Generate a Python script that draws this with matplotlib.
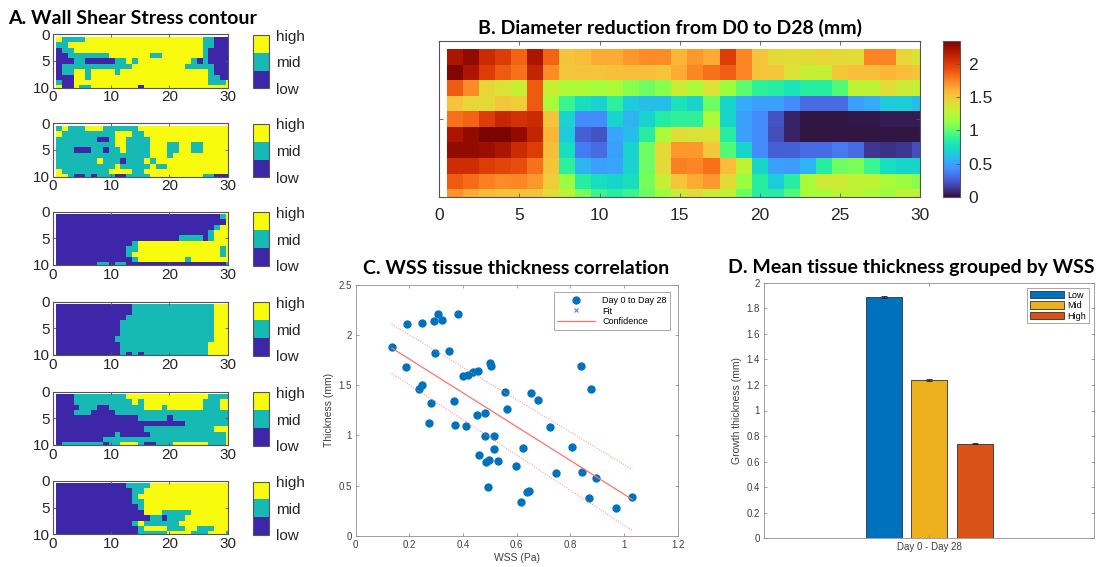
import numpy as np
import matplotlib
matplotlib.use('Agg')
import matplotlib.pyplot as plt
from matplotlib.colors import ListedColormap

# A. wall shear stress class per cell: 0 = low, 1 = mid, 2 = high (10 x 30, groups of 5 columns)
wss_map1 = ["21111 22222 22222 22222 22222 11000",
            "11222 22222 22222 22222 22222 11000",
            "01122 22222 22222 22222 22222 10000",
            "00111 11112 22222 21122 22222 10000",
            "00011 00000 11212 22222 22210 10000",
            "01111 11111 11122 22222 22111 11000",
            "01122 12222 12222 22222 22222 21000",
            "00022 12222 22222 22222 22222 21100",
            "10022 22222 22222 22222 22222 21112",
            "20021 12222 22220 22222 22222 22222"]
wss_map2 = ["12111 22211 11112 22222 22222 22222",
            "21111 11111 22211 22222 22222 22222",
            "11111 11001 22111 12222 22222 22222",
            "11111 11111 22111 12221 12211 22222",
            "11100 01101 12111 12221 12211 22222",
            "11111 11111 11111 12221 22222 22222",
            "11111 11211 10111 21222 22222 22222",
            "11111 11111 21111 12112 22222 22222",
            "21111 11112 22211 22222 22222 22222",
            "22100 10111 00111 12222 22222 11000"]
wss_map3 = ["00000 00000 00000 00000 00000 00012",
            "00000 00000 00000 00000 00000 00002",
            "00000 00000 00000 00000 00000 00122",
            "00000 00000 00000 00000 00000 01222",
            "00000 00000 00000 00000 01111 01222",
            "00000 00000 00012 22222 22222 22222",
            "00000 00000 00112 22222 22222 22212",
            "00000 00000 00122 22222 22222 22212",
            "00000 00000 00012 22222 22122 22222",
            "00000 00110 11000 00000 00000 00001"]
wss_map4 = ["00000 00000 00011 11111 11111 11222",
            "00000 00000 00011 11111 11111 11222",
            "00000 00000 00111 11111 11111 11222",
            "00000 00000 01111 11111 11111 11222",
            "00000 00000 01111 11111 11111 11222",
            "00000 00000 01111 11111 11111 11222",
            "00000 00000 11111 11111 11111 11222",
            "00000 00000 01111 11111 11111 12222",
            "00000 00000 01111 11111 11111 12222",
            "00000 00000 01010 11111 11111 12222"]
wss_map5 = ["00011 11111 11222 22222 22222 21111",
            "00011 11111 11121 22222 22222 11122",
            "00001 11001 11111 22212 22222 11122",
            "00011 10000 11111 11111 11111 11111",
            "00000 00000 00001 11110 11111 11111",
            "00000 00000 00000 00000 00111 11111",
            "00000 00000 00000 11111 11111 11222",
            "00000 00000 10000 01111 11111 11112",
            "00000 00011 11111 11111 11111 11112",
            "01111 11101 12221 00111 22222 21112"]
wss_map6 = ["00000 00000 00111 12222 22222 22222",
            "00000 00000 00011 22222 22222 22222",
            "00000 00000 00012 22222 22222 22222",
            "00000 00000 00011 22222 22222 22222",
            "00000 00000 00001 22222 22222 22222",
            "00000 00000 00000 22211 11122 22222",
            "00000 00000 00000 01101 11222 22222",
            "00000 00000 00012 11111 12222 22222",
            "00000 00000 00001 22221 11221 11222",
            "00000 00000 00001 11112 22211 12221"]
wss_classes = ['low', 'mid', 'high']

# B. diameter reduction D0 -> D28 (mm), 10 rows x 30 columns
diam = [
    [2.20, 2.28, 2.08, 2.00, 1.85, 2.20, 1.85, 1.52, 1.55, 1.62, 1.62, 1.68, 1.72, 1.72, 1.58,
     1.68, 1.62, 2.00, 1.74, 1.52, 1.42, 1.41, 1.42, 1.45, 1.42, 1.41, 1.75, 1.75, 1.45, 1.38],
    [2.33, 2.20, 2.00, 1.88, 1.80, 2.12, 1.72, 1.52, 1.52, 1.52, 1.54, 1.55, 1.55, 1.52, 1.62,
     1.74, 1.80, 1.87, 1.74, 1.52, 1.50, 1.38, 1.30, 1.30, 1.50, 1.55, 1.55, 1.58, 1.55, 1.52],
    [1.88, 1.72, 1.45, 1.38, 1.30, 1.88, 1.30, 1.22, 1.22, 1.18, 1.22, 1.10, 1.03, 1.10, 1.33,
     1.20, 1.38, 1.15, 1.00, 0.88, 0.85, 0.78, 0.85, 0.85, 0.97, 1.27, 1.27, 1.41, 1.33, 1.30],
    [1.52, 1.45, 1.42, 1.50, 1.48, 1.88, 1.20, 0.90, 0.75, 0.69, 0.88, 0.66, 0.60, 0.60, 0.78,
     0.70, 1.03, 0.70, 0.53, 0.49, 0.49, 0.42, 0.30, 0.30, 0.30, 0.49, 0.53, 0.66, 0.66, 0.60],
    [1.80, 1.85, 2.00, 2.10, 2.05, 2.08, 1.52, 0.69, 0.42, 0.42, 0.69, 0.56, 0.69, 0.84, 0.88,
     0.88, 1.20, 0.70, 0.49, 0.42, 0.22, 0.06, 0.01, 0.01, 0.01, 0.02, 0.02, 0.03, 0.03, 0.03],
    [2.20, 2.28, 2.35, 2.35, 2.28, 2.12, 1.58, 0.66, 0.26, 0.22, 0.51, 0.60, 0.85, 1.20, 1.40,
     1.38, 1.38, 0.85, 0.49, 0.42, 0.20, 0.06, 0.01, 0.01, 0.01, 0.01, 0.01, 0.01, 0.01, 0.01],
    [2.28, 2.28, 2.25, 2.20, 2.08, 2.00, 1.55, 0.75, 0.35, 0.30, 0.49, 0.69, 1.03, 1.42, 1.68,
     1.68, 1.50, 0.97, 0.70, 0.42, 0.26, 0.26, 0.30, 0.30, 0.35, 0.30, 0.12, 0.11, 0.12, 0.20],
    [2.07, 2.07, 2.00, 1.96, 1.92, 1.80, 1.52, 0.88, 0.56, 0.49, 0.51, 0.69, 1.03, 1.42, 1.76,
     1.74, 1.80, 1.55, 1.27, 0.70, 0.49, 0.47, 0.56, 0.85, 1.03, 1.07, 0.90, 0.75, 0.70, 0.70],
    [1.88, 1.82, 1.76, 1.72, 1.74, 1.68, 1.48, 1.15, 0.85, 0.75, 0.70, 0.75, 1.05, 1.30, 1.52,
     1.62, 1.68, 1.42, 1.15, 0.85, 0.66, 0.85, 1.20, 1.33, 1.33, 1.27, 1.27, 1.20, 1.15, 1.10],
    [1.70, 1.62, 1.56, 1.53, 1.53, 1.53, 1.42, 1.27, 1.05, 0.90, 0.85, 0.90, 1.03, 1.15, 1.33,
     1.42, 1.33, 1.27, 1.03, 0.85, 0.85, 0.97, 1.18, 1.20, 1.27, 1.27, 1.20, 1.15, 1.27, 1.27]]

# C. WSS vs tissue thickness
wss = [0.134, 0.188, 0.193, 0.236, 0.247, 0.248, 0.275, 0.281, 0.293, 0.296, 0.306, 0.323,
       0.347, 0.365, 0.370, 0.383, 0.401, 0.412, 0.419, 0.438, 0.452, 0.457, 0.460, 0.480,
       0.481, 0.484, 0.493, 0.498, 0.502, 0.503, 0.517, 0.517, 0.530, 0.557, 0.565, 0.599,
       0.616, 0.624, 0.637, 0.647, 0.653, 0.681, 0.725, 0.745, 0.807, 0.840, 0.843, 0.870,
       0.876, 0.897, 0.969, 1.031]
thick = [1.885, 1.686, 2.108, 1.459, 1.503, 2.124, 1.124, 1.327, 2.138, 1.822, 2.214, 2.151,
         1.842, 1.340, 1.107, 2.214, 1.589, 1.090, 1.606, 1.632, 1.200, 1.646, 0.801, 1.227,
         0.991, 0.731, 0.489, 0.755, 1.719, 1.692, 0.991, 0.861, 0.748, 1.430, 1.260, 0.698,
         0.339, 0.874, 0.439, 0.449, 1.420, 1.353, 1.087, 0.628, 0.884, 1.692, 0.638, 0.372,
         1.459, 0.578, 0.279, 0.389]
conf_x = [0.134, 1.031]
conf_upper = [2.11, 0.66]
conf_lower = [1.62, 0.05]

# D. mean thickness per WSS group
groups = ['Low', 'Mid', 'High']
means = [1.89, 1.24, 0.74]
errs = [0.008, 0.008, 0.006]
group_colors = ['#0072bd', '#edb120', '#d95319']

W, H = 1098, 567
def box(x0, y0, x1, y1):
    # pixel box -> figure fraction
    return [x0 / W, 1 - y1 / H, (x1 - x0) / W, (y1 - y0) / H]

plt.rcParams['font.family'] = ['Liberation Sans', 'DejaVu Sans']
title_font = dict(family='Lato', weight='bold', size=14, color='black')
txt = '#262626'

fig = plt.figure(figsize=(10.98, 5.67), dpi=100)

# ---- A
wss_cmap = ListedColormap(['#3e26a8', '#16b9b3', '#f9fb0e'])
tops = [34.3, 123.3, 211.7, 301.7, 391.7, 481.0]
for grid, top in zip([wss_map1, wss_map2, wss_map3, wss_map4, wss_map5, wss_map6], tops):
    z = np.array([[int(c) for c in row.replace(' ', '')] for row in grid]) + 1
    ax = fig.add_axes(box(52.7, top, 227.7, top + 53.3))
    im = ax.imshow(z, cmap=wss_cmap, vmin=1, vmax=3, extent=(0.5, 30.5, 10.5, 0.5),
                   aspect='auto', interpolation='nearest')
    ax.set_xlim(0, 30)
    ax.set_ylim(10, 0)
    ax.set_xticks([0, 10, 20, 30])
    ax.set_yticks([0, 5, 10])
    ax.tick_params(direction='in', top=True, right=True, length=2.5, width=0.6,
                   labelsize=11, labelcolor=txt, color='#555555', pad=2)
    for s in ax.spines.values():
        s.set_color('#555555')
        s.set_linewidth(0.8)
    cax = fig.add_axes(box(253.3, top + 0.7, 269.3, top + 54))
    cb = fig.colorbar(im, cax=cax, ticks=[1, 2, 3])
    cb.ax.set_yticklabels(wss_classes)
    cb.ax.tick_params(length=0, labelsize=11, labelcolor=txt, pad=5)
    cb.outline.set_edgecolor('#555555')
fig.text(8 / W, 1 - 18 / H, 'A. Wall Shear Stress contour', ha='left', va='center', **title_font)

# ---- B
axb = fig.add_axes(box(439.3, 41, 920, 196.7))
imb = axb.imshow(np.array(diam), cmap='turbo', vmin=0, vmax=2.35,
                 extent=(0.5, 30.5, 10.5, 0.5), aspect='auto', interpolation='nearest')
axb.set_xlim(0, 30)
axb.set_ylim(10, 0)
axb.set_xticks(range(0, 31, 5))
axb.set_yticks([5])
axb.set_yticklabels([])
axb.tick_params(direction='in', top=True, right=True, length=3, width=0.6,
                labelsize=12.5, labelcolor=txt, color='#555555', pad=8)
for s in axb.spines.values():
    s.set_color('#555555')
    s.set_linewidth(0.8)
caxb = fig.add_axes(box(943.3, 41, 960, 196.7))
cbb = fig.colorbar(imb, cax=caxb, ticks=[0, 0.5, 1, 1.5, 2])
cbb.ax.set_yticklabels(['0', '0.5', '1', '1.5', '2'])
cbb.ax.tick_params(direction='in', length=3, width=0.6, labelsize=12.5, labelcolor=txt,
                   color='#555555', pad=6)
cbb.outline.set_edgecolor('#555555')
fig.text(670 / W, 1 - 28 / H, 'B. Diameter reduction from D0 to D28 (mm)',
         ha='center', va='center', **title_font)

# ---- C
axc = fig.add_axes(box(355.7, 285, 677.7, 535.7))
axc.plot(wss, thick, 'o', color='#0072bd', ms=5, label='Day 0 to Day 28')
axc.plot([], [], 'x', color='#7070ff', ms=3.5, mew=0.8, label='Fit')
coef = np.polyfit(wss, thick, 1)
xs = np.array(conf_x)
axc.plot(xs, np.polyval(coef, xs), color='#ff7070', lw=0.9, label='Confidence')
axc.plot(conf_x, conf_upper, ':', color='#ff8080', lw=0.7)
axc.plot(conf_x, conf_lower, ':', color='#ff8080', lw=0.7)
axc.set_xlim(0, 1.2)
axc.set_ylim(0, 2.5)
axc.set_xticks(np.arange(0, 1.21, 0.2))
axc.set_xticklabels(['0', '0.2', '0.4', '0.6', '0.8', '1', '1.2'])
axc.set_yticks(np.arange(0, 2.51, 0.5))
axc.set_yticklabels(['0', '0.5', '1', '1.5', '2', '2.5'])
axc.tick_params(direction='in', top=True, right=True, length=2.5, width=0.5,
                labelsize=7, labelcolor='#404040', color='#808080', pad=3)
for s in axc.spines.values():
    s.set_color('#909090')
    s.set_linewidth(0.6)
axc.set_xlabel('WSS (Pa)', fontsize=7.5, color='#404040', labelpad=2)
axc.set_ylabel('Thickness (mm)', fontsize=7.5, color='#404040', labelpad=3)
leg = axc.legend(loc='upper right', fontsize=6.5, frameon=True, fancybox=False,
                 edgecolor='#808080', borderaxespad=0.8, handlelength=4.2, labelspacing=0.2)
leg.get_frame().set_linewidth(0.6)
fig.text(516 / W, 1 - 268 / H, 'C. WSS tissue thickness correlation',
         ha='center', va='center', **title_font)

# ---- D
axd = fig.add_axes(box(764.3, 282.7, 1094, 538.3))
offsets = [-0.138, 0, 0.138]
for g, m, e, c, o in zip(groups, means, errs, group_colors, offsets):
    axd.bar(1 + o, m, width=0.109, color=c, edgecolor='#303030', linewidth=0.6, label=g)
    axd.errorbar(1 + o, m, yerr=e, color='#202020', lw=0.6, capsize=2, capthick=0.6)
axd.set_xlim(0.5, 1.5)
axd.set_ylim(0, 2)
axd.set_xticks([1])
axd.set_xticklabels(['Day 0 - Day 28'])
axd.set_yticks(np.arange(0, 2.01, 0.2))
axd.set_yticklabels(['0', '0.2', '0.4', '0.6', '0.8', '1', '1.2', '1.4', '1.6', '1.8', '2'])
axd.tick_params(direction='in', top=True, right=True, length=2.5, width=0.5,
                labelsize=7, labelcolor='#404040', color='#808080', pad=3)
for s in axd.spines.values():
    s.set_color('#909090')
    s.set_linewidth(0.6)
axd.set_ylabel('Growth thickness (mm)', fontsize=7.5, color='#404040', labelpad=3)
legd = axd.legend(loc='upper right', fontsize=6.5, frameon=True, fancybox=False,
                  edgecolor='#808080', borderaxespad=0.6, handlelength=3.8, handleheight=0.9,
                  labelspacing=0.15, handletextpad=0.3, borderpad=0.3)
legd.get_frame().set_linewidth(0.6)
fig.text(911 / W, 1 - 268 / H, 'D. Mean tissue thickness grouped by WSS',
         ha='center', va='center', **title_font)

fig.savefig('out.png', dpi=100)
